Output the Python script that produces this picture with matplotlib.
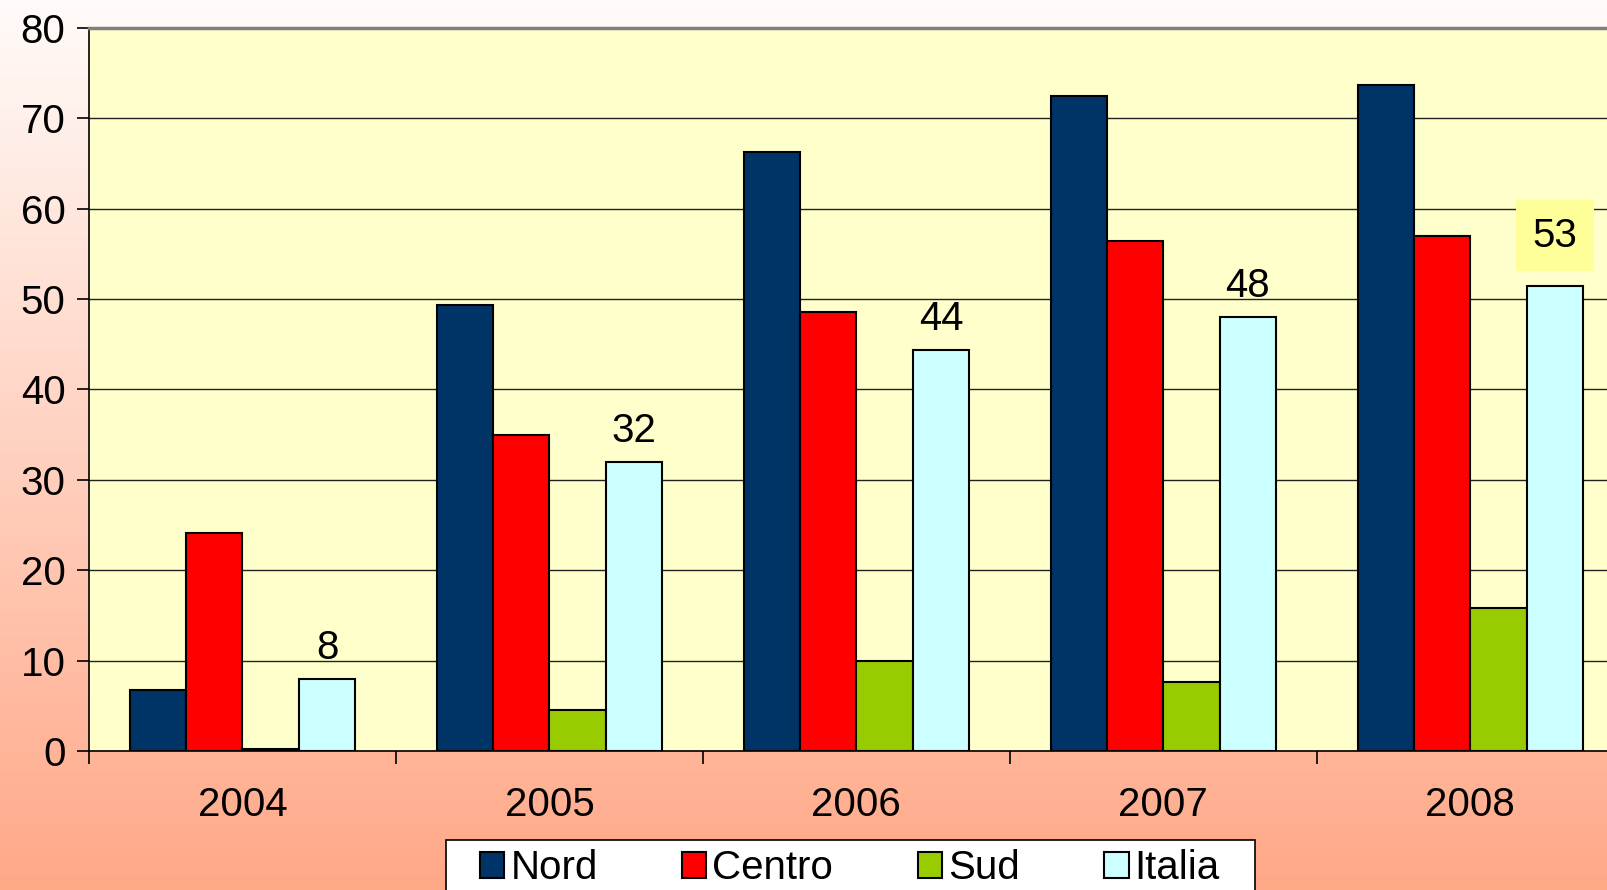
import numpy as np
import matplotlib.pyplot as plt
from matplotlib.patches import Rectangle

plt.rcParams['font.family'] = ['Liberation Sans', 'DejaVu Sans']

years = ['2004', '2005', '2006', '2007', '2008']
nord = [6.7, 49.3, 66.3, 72.4, 73.7]
centro = [24.1, 34.9, 48.6, 56.4, 57.0]
sud = [0.2, 4.5, 10.0, 7.6, 15.8]
italia = [8.0, 32.0, 44.4, 48.0, 51.4]
italia_labels = ['8', '32', '44', '48', '53']

series = [('Nord', nord, '#003366'),
          ('Centro', centro, '#FF0000'),
          ('Sud', sud, '#99CC00'),
          ('Italia', italia, '#CCFFFF')]

fs = 29

fig = plt.figure(figsize=(16.07, 8.90), dpi=100)

# background gradient
bg = fig.add_axes([0, 0, 1, 1], zorder=0)
top = np.array([255, 251, 249]) / 255
bot = np.array([255, 168, 136]) / 255
t = np.linspace(0, 1, 256)[:, None]
grad = top + (bot - top) * t
bg.imshow(grad[:, None, :].repeat(2, axis=1), aspect='auto', extent=[0, 1, 0, 1])
bg.axis('off')

ax = fig.add_axes([0.0554, 0.1562, 0.955, 0.8127], zorder=1)
ax.set_facecolor('#FFFFCC')

x = np.arange(len(years))
w = 0.1836
for i, (name, vals, col) in enumerate(series):
    ax.bar(x + (i - 1.5) * w, vals, w, color=col, edgecolor='black',
           linewidth=1.5, label=name, zorder=3)

# data labels on Italia
for i, lab in enumerate(italia_labels):
    xi = x[i] + 1.5 * w
    if i == len(italia_labels) - 1:
        ax.text(xi, italia[i] + 5.6, lab, ha='center', va='center', fontsize=fs,
                zorder=5, bbox=dict(facecolor='#FFFF99', edgecolor='none', pad=12))
    else:
        ax.text(xi, italia[i] + 3.4, lab, ha='center', va='center', fontsize=fs, zorder=5)

ax.set_xlim(-0.5, 4.5)
ax.set_ylim(0, 80)
ax.set_yticks(range(0, 81, 10))
ax.yaxis.grid(True, color='#222222', linewidth=1, zorder=1)
ax.set_axisbelow(True)

ax.set_xticks(np.arange(-0.5, 4.6, 1))
ax.set_xticklabels([])
ax.set_xticks(x, minor=True)
ax.set_xticklabels(years, minor=True)
ax.tick_params(axis='x', which='minor', length=0, pad=25, labelsize=fs)
ax.tick_params(axis='x', which='major', length=9, width=1.2, direction='out')
ax.tick_params(axis='y', length=9, width=1.2, labelsize=fs, pad=8)

ax.spines['top'].set_color('#808080')
ax.spines['top'].set_linewidth(2.5)
ax.spines['right'].set_visible(False)
ax.spines['left'].set_linewidth(1.2)
ax.spines['bottom'].set_linewidth(1.2)

# legend box (runs off the bottom edge)
fig.patches.append(Rectangle((446 / 1607, -0.05), (1255 - 446) / 1607, 0.05 + 50 / 890,
                             transform=fig.transFigure, facecolor='white',
                             edgecolor='black', linewidth=1.2, zorder=2))
leg = fig.legend(loc='center', bbox_to_anchor=(850 / 1607, 1 - 868 / 890), ncol=4,
                 fontsize=fs, frameon=False,
                 handlelength=0.6, handleheight=0.6, handletextpad=0.15,
                 columnspacing=2.1, borderpad=0.1)
leg.set_zorder(3)
for h in leg.legend_handles:
    h.set_edgecolor('black')
    h.set_linewidth(1.5)

fig.savefig('out.png', dpi=100)
